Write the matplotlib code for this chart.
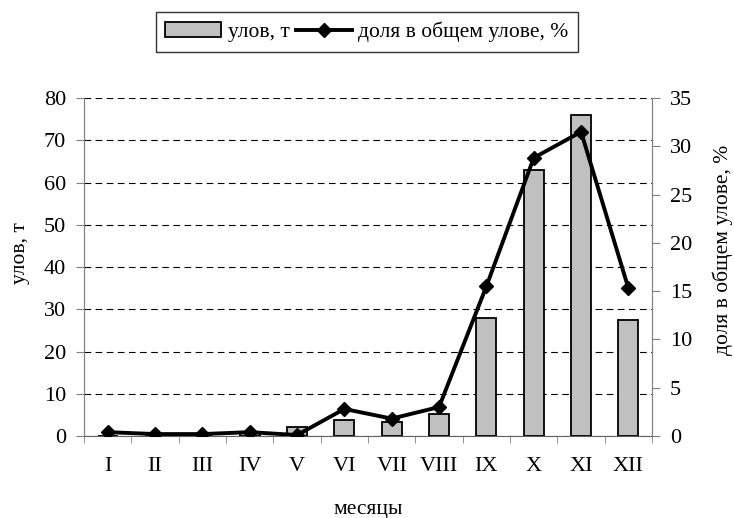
import matplotlib
matplotlib.use("Agg")
import matplotlib.pyplot as plt
import numpy as np

months = ["I", "II", "III", "IV", "V", "VI", "VII", "VIII", "IX", "X", "XI", "XII"]
catch_t = [0.1, 0.1, 0.1, 1.0, 2.2, 3.7, 3.2, 5.2, 27.9, 63.0, 76.0, 27.4]
share_pct = [0.4, 0.2, 0.2, 0.4, 0.1, 2.8, 1.8, 3.0, 15.5, 28.8, 31.5, 15.3]

plt.rcParams["font.family"] = ["Liberation Serif", "DejaVu Serif"]
plt.rcParams["font.size"] = 16

fig = plt.figure(figsize=(7.34, 5.18), dpi=100)
ax = fig.add_axes([0.1144, 0.1583, 0.774, 0.6525])
ax2 = ax.twinx()

x = np.arange(len(months))
bars = ax.bar(x, catch_t, width=0.42, color="#c0c0c0", edgecolor="black", linewidth=1.3,
              label="улов, т", zorder=3)
line, = ax2.plot(x, share_pct, color="black", linewidth=2.8, marker="D", markersize=7.5,
                 label="доля в общем улове, %", zorder=4)

ax.set_xlim(-0.5, len(months) - 0.5)
ax.set_ylim(0, 80)
ax.set_yticks(range(0, 81, 10))
ax2.set_ylim(0, 35)
ax2.set_yticks(range(0, 36, 5))

ax.yaxis.grid(True, linestyle=(0, (6, 4)), color="black", linewidth=0.8, zorder=0)
ax.set_axisbelow(True)

ax.set_xticks(x)
ax.set_xticklabels(months)
ax.set_xticks(np.arange(-0.5, len(months), 1), minor=True)
ax.tick_params(axis="x", which="major", length=0, pad=15)
ax.tick_params(axis="x", which="minor", length=5, direction="out", color="#808080")
ax.tick_params(axis="y", length=6, direction="out", color="#808080", pad=7)
ax2.tick_params(axis="y", length=6, direction="out", color="#808080", pad=7)

for a in (ax, ax2):
    a.spines["top"].set_visible(False)
    a.spines["left"].set_color("#808080")
    a.spines["right"].set_color("#808080")
    a.spines["bottom"].set_color("#606060")
ax2.spines["bottom"].set_visible(False)

# подписи осей
fig.text(368 / 734, 1 - 514 / 518, "месяцы", ha="center", va="baseline", fontsize=15.5)
fig.text(21 / 734, 1 - 253 / 518, "улов, т", ha="center", va="center", rotation=90,
         fontsize=15.5)
fig.text(723 / 734, 1 - 250 / 518, "доля в общем улове, %", ha="center", va="center",
         rotation=90, fontsize=15.5)

leg = fig.legend([bars, line], ["улов, т", "доля в общем улове, %"], loc="center",
                 bbox_to_anchor=(367 / 734, 1 - 32 / 518), ncol=2, frameon=True,
                 fancybox=False, edgecolor="black", handlelength=2.6, columnspacing=0.3,
                 handletextpad=0.3, borderpad=0.45, fontsize=15.5)
leg.get_frame().set_linewidth(1.0)

fig.savefig("out.png", dpi=100)
